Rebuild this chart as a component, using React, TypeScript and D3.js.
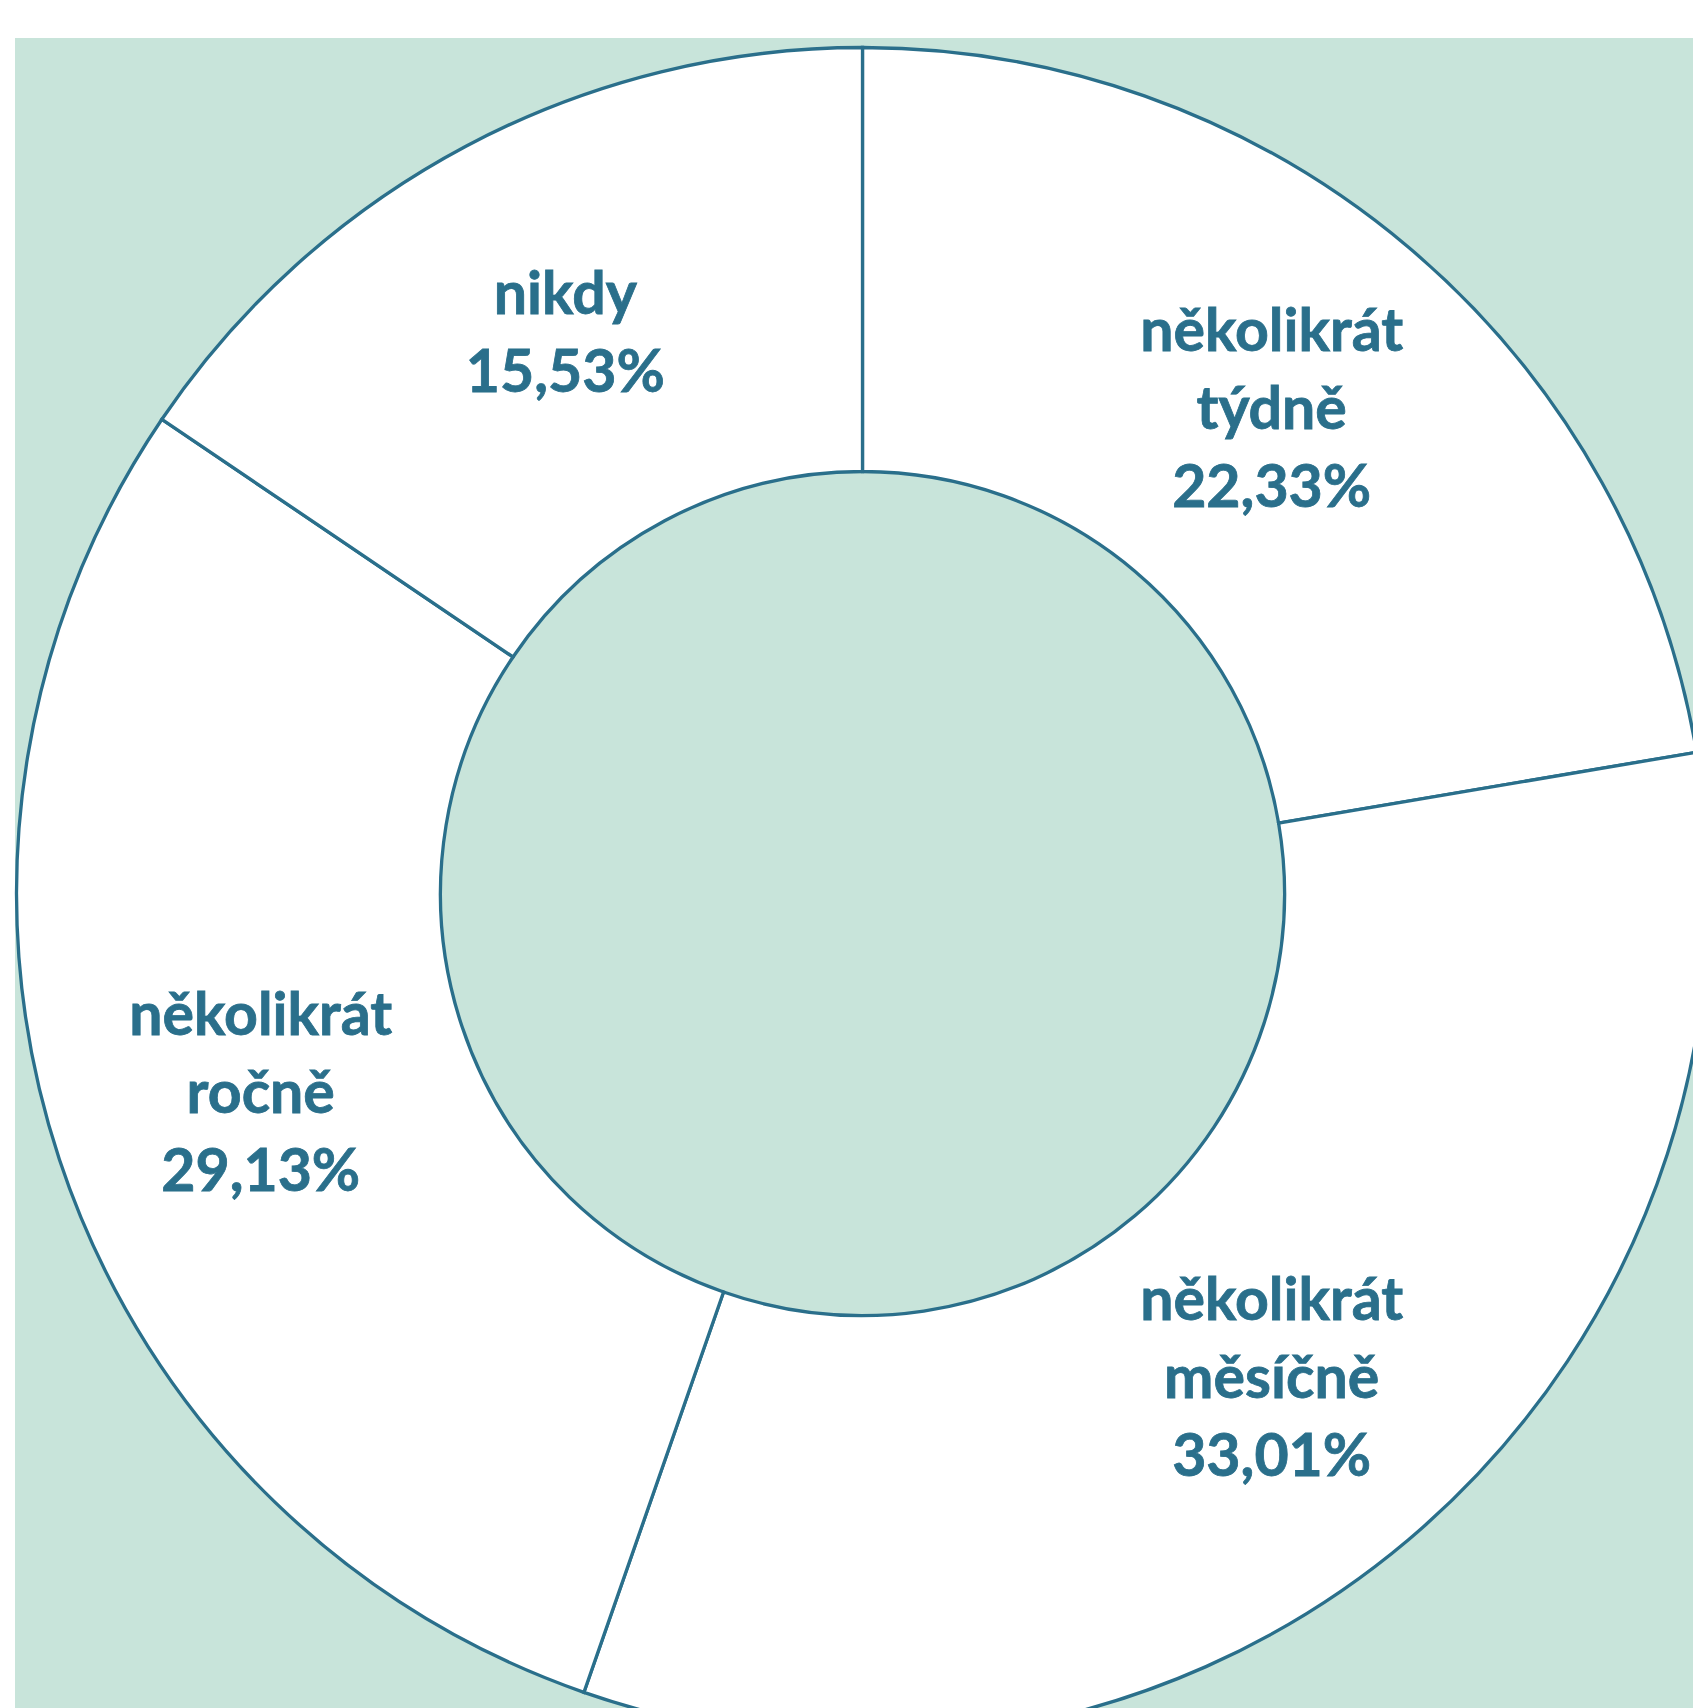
import React from "react";
import * as d3 from "d3";

const categories = ["několikrát týdně", "několikrát měsíčně", "několikrát ročně", "nikdy"];
const labelLines = [["několikrát", "týdně"], ["několikrát", "měsíčně"], ["několikrát", "ročně"], ["nikdy"]];
const values = [22.33, 33.01, 29.13, 15.53];
const valueLabels = ["22,33%", "33,01%", "29,13%", "15,53%"];

const W = 1693;
const H = 1708;
const cx = 862.5;
const cy = 893.5;
const R = 846;
const r = 422;
const stroke = "#2a6f8b";
const bg = "#c8e4da";
const lineH = 78;

export default function App() {
  const pie = d3.pie<number>().sort(null).value((d) => d).startAngle(0).endAngle(2 * Math.PI);
  const arcs = pie(values);
  const arc = d3.arc<d3.PieArcDatum<number>>().innerRadius(r).outerRadius(R);
  return (
    <svg width={W} height={H} style={{ position: "absolute", left: 0, top: 0 }}>
      <rect x={0} y={0} width={W} height={H} fill="#ffffff" />
      <rect x={15} y={38} width={W - 15} height={H - 38} fill={bg} />
      <g transform={`translate(${cx},${cy})`}>
        {arcs.map((a, i) => (
          <path key={categories[i]} d={arc(a) || ""} fill="#ffffff" stroke={stroke} strokeWidth={3.3} />
        ))}
        {arcs.map((a, i) => {
          const [x, y] = arc.centroid(a);
          const lines = [...labelLines[i], valueLabels[i]];
          const n = lines.length;
          return (
            <text
              key={"t" + i}
              textAnchor="middle"
              fontFamily="Lato, 'Open Sans', sans-serif"
              fontWeight={700}
              fontSize={59}
              fill={stroke}
              stroke={stroke}
              strokeWidth={0.8}
            >
              {lines.map((ln, j) => (
                <tspan key={j} x={x} y={y + 20 + (j - (n - 1) / 2) * lineH}>
                  {ln}
                </tspan>
              ))}
            </text>
          );
        })}
      </g>
    </svg>
  );
}
